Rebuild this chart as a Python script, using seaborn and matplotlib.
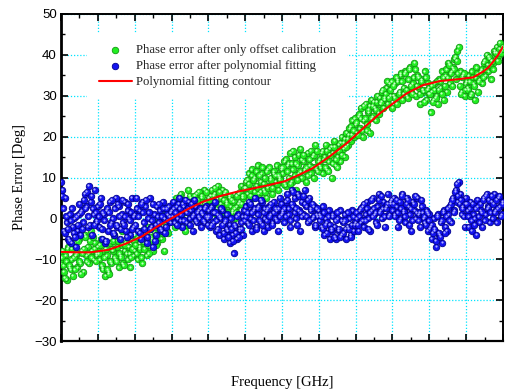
import numpy as np
import pandas as pd
import matplotlib
matplotlib.use("Agg")
import matplotlib.pyplot as plt
import seaborn as sns
from matplotlib.ticker import MultipleLocator, NullFormatter
from matplotlib.transforms import ScaledTranslation

# ---------------- data ----------------
# Phase error after only offset calibration: two interleaved sample passes,
# 25 samples per major x-division each
offset_err_a = (
    [-11, -8, -13, -9, -15, -7, -12, -10, -14, -6, -9, -12, -5, -11, -8, -13, -4, -9, -7, -11, -3, -8, -10, -6, -9] +
    [-7, -10, -5, -12, -8, -14, -9, -13, -6, -11, -8, -4, -10, -7, -12, -9, -3, -11, -8, -6, -10, -7, -12, -5, -9] +
    [-8, -5, -10, -7, -3, -11, -6, -4, -9, -2, -7, -5, -8, -1, -4, -6, -3, 0, -5, -2, -8, 1, -3, -1, 2] +
    [0, 3, -2, 5, 1, -1, 6, 2, 4, -3, 3, 7, 1, 5, 2, 0, 4, 6, 3, 1, 5, 2, 7, 4, 3] +
    [5, 2, 7, 4, 6, 1, 8, 3, 5, 7, 2, 6, 4, 1, 5, 3, 2, 4, 0, 3, 6, 4, 8, 5, 7] +
    [9, 6, 11, 7, 12, 5, 10, 8, 13, 6, 9, 11, 7, 10, 5, 12, 8, 10, 6, 11, 9, 13, 7, 10, 12] +
    [11, 14, 8, 13, 10, 16, 9, 12, 15, 7, 13, 11, 17, 10, 14, 12, 9, 16, 13, 11, 15, 10, 18, 12, 14] +
    [13, 16, 11, 15, 18, 12, 14, 17, 10, 16, 19, 13, 15, 18, 14, 20, 17, 15, 21, 18, 22, 19, 24, 20, 23] +
    [21, 25, 22, 27, 20, 24, 28, 23, 26, 21, 29, 25, 27, 24, 30, 26, 28, 31, 27, 29, 32, 28, 33, 30, 27] +
    [30, 33, 28, 34, 31, 35, 29, 32, 36, 30, 34, 37, 31, 33, 38, 30, 35, 32, 28, 34, 31, 36, 29, 33, 32] +
    [26, 31, 29, 33, 30, 28, 34, 32, 36, 29, 35, 31, 38, 33, 36, 37, 39, 34, 41, 42, 36, 31, 35, 30, 33] +
    [32, 35, 30, 36, 33, 29, 37, 31, 34, 36, 33, 38, 35, 40, 36, 39, 34, 38, 41, 39, 42, 40, 43, 41, 42]
)
offset_err_b = (
    [-9.5, -11.5, -14.5, -10.5, -7.5, -11.5, -12.5, -7.5, -9.5, -12.5, -8.5, -5.5, -10.5, -13.5, -8.5, -7.5, -4.5, -10.5, -8.5, -5.5, -9.5, -4.5, -7.5, -10.5, -8.5] +
    [-8.5, -6.5, -11.5, -12.5, -9.5, -7.5, -12.5, -13.5, -10.5, -7.5, -5.5, -9.5, -10.5, -5.5, -8.5, -9.5, -6.5, -11.5, -6.5, -8.5, -3.5, -8.5, -9.5, -7.5, -5.5] +
    [-6.5, -8.5, -4.5, -7.5, -9.5, -5.5, -7.5, -3.5, -6.5, -8.5, -4.5, -2.5, -5.5, -3.5, -6.5, -1.5, -4.5, -2.5, -3.5, 0.5, -2.5, -1.5, -3.5, 0.5, 1.5] +
    [1.5, -0.5, 3.5, 1.5, 2.5, 5.5, 0.5, 2.5, 4.5, 1.5, -1.5, 4.5, 5.5, 3.5, 0.5, 5.5, 1.5, 4.5, 6.5, 2.5, 5.5, 1.5, 3.5, 6.5, 2.5] +
    [4.5, 5.5, 2.5, 5.5, 7.5, 2.5, 3.5, 6.5, 3.5, 0.5, 4.5, 6.5, 3.5, 1.5, 5.5, 4.5, 1.5, 2.5, 1.5, 5.5, 3.5, 6.5, 3.5, 5.5, 7.5] +
    [7.5, 9.5, 8.5, 5.5, 10.5, 9.5, 6.5, 11.5, 7.5, 10.5, 6.5, 12.5, 8.5, 6.5, 11.5, 7.5, 12.5, 9.5, 7.5, 11.5, 10.5, 8.5, 10.5, 9.5, 12.5] +
    [12.5, 8.5, 14.5, 11.5, 13.5, 8.5, 13.5, 16.5, 10.5, 13.5, 9.5, 15.5, 11.5, 14.5, 15.5, 11.5, 12.5, 10.5, 14.5, 16.5, 12.5, 15.5, 12.5, 16.5, 11.5] +
    [14.5, 12.5, 16.5, 14.5, 12.5, 16.5, 11.5, 15.5, 17.5, 13.5, 17.5, 14.5, 12.5, 16.5, 18.5, 15.5, 18.5, 19.5, 17.5, 19.5, 20.5, 22.5, 20.5, 21.5, 24.5] +
    [23.5, 20.5, 25.5, 24.5, 21.5, 27.5, 24.5, 21.5, 26.5, 27.5, 24.5, 27.5, 28.5, 26.5, 28.5, 25.5, 29.5, 28.5, 31.5, 29.5, 30.5, 33.5, 29.5, 31.5, 33.5] +
    [32.5, 29.5, 34.5, 33.5, 30.5, 35.5, 33.5, 30.5, 35.5, 31.5, 29.5, 36.5, 32.5, 30.5, 34.5, 36.5, 32.5, 34.5, 30.5, 33.5, 31.5, 28.5, 34.5, 31.5, 30.5] +
    [30.5, 32.5, 28.5, 31.5, 29.5, 33.5, 31.5, 33.5, 30.5, 34.5, 32.5, 36.5, 34.5, 37.5, 35.5, 32.5, 36.5, 39.5, 38.5, 35.5, 32.5, 30.5, 34.5, 35.5, 31.5] +
    [33.5, 31.5, 33.5, 30.5, 34.5, 32.5, 34.5, 35.5, 33.5, 35.5, 36.5, 34.5, 38.5, 36.5, 37.5, 39.5, 37.5, 38.5, 36.5, 40.5, 40.5, 38.5, 41.5, 40.5, 41.5]
)

# Phase error after polynomial fitting: two interleaved sample passes
poly_err_a = (
    [9, 7, -3, 5, -1, -5, 1, -6, -2, 0, -7, -3, 1, -4, 2, -1, 6, 3, -2, 8, 4, -4, 1, 7, -1] +
    [3, -2, 5, -5, 1, -6, 2, -3, 4, -1, 0, -4, 5, -2, 3, -5, 1, -1, 4, -3, 2, 0, -4, 5, -2] +
    [1, 5, -3, 2, -5, 4, -1, 3, -6, 0, 5, -2, -7, 1, -4, 3, -1, 2, -3, 4, 0, -2, 1, 3, -1] +
    [2, 4, -1, 3, 0, 5, 1, -2, 3, 2, -1, 4, 0, 2, -3, 1, 3, -1, 2, 0, -2, 1, -1, 3, 0] +
    [2, -2, 3, -1, 4, -3, 1, -4, 0, 2, -5, -1, 1, -3, -6, 0, -4, -8.5, -2, -5, 1, -3, -1, -4, 2] +
    [3, -1, 4, 0, -3, 2, 5, -2, 1, 3, -1, 4, -3, 0, 2, -2, 3, 1, -1, 4, 0, 2, -3, 5, 1] +
    [2, -1, 4, 6, 1, -2, 7, 3, 5, 0, 6, 2, -3, 4, 1, 7, 3, -1, 5, 2, 0, 3, -2, 1, 2] +
    [1, -2, 3, -4, 0, -1, 2, -5, -3, 1, -2, -5, 0, -3, 2, -4, -1, 1, -5, -2, 0, -4, 2, -3, -1] +
    [0, -3, 2, -1, 3, -2, 1, 4, 0, -3, 2, 5, 1, -1, 3, 6, 2, 0, 4, -2, 3, 6, 1, 4, 2] +
    [5, 1, 3, -2, 4, 0, 6, 2, -1, 5, 3, 1, -3, 4, 2, 0, 5, 1, -2, 3, 0, -1, 2, -3, 1] +
    [-2, -5, 0, -3, -7, 1, -4, -1, -6, 2, -2, -3, 1, 3, -1, 5, 2, 7, 4, 9, 6, 1, 3, -2, 5] +
    [2, -2, 4, -3, 1, 0, -4, 3, -1, 2, -2, 5, 1, 6, 3, -1, 4, 0, 6, 2, -1, 5, 3, 1, 4]
)
poly_err_b = (
    [5.5, 2.5, -3.5, 0.5, -2.5, -5.5, -0.5, 2.5, -3.5, -4.5, 0.5, -1.5, 3.5, 1.5, -2.5, 4.5, 2.5, 6.5, 0.5, -1.5, 5.5, 2.5, -1.5, 1.5, -0.5] +
    [0.5, 3.5, -2.5, 1.5, -0.5, -5.5, 2.5, 1.5, -1.5, 4.5, -3.5, 2.5, -1.5, 3.5, 0.5, -2.5, 4.5, -1.5, 0.5, -4.5, 3.5, -0.5, 1.5, -2.5, 0.5] +
    [-1.5, 2.5, 0.5, -3.5, 3.5, 1.5, -2.5, 4.5, -4.5, 1.5, -2.5, -0.5, 3.5, -5.5, -1.5, 0.5, 3.5, -2.5, 0.5, 2.5, -3.5, 2.5, -0.5, 0.5, 1.5] +
    [0.5, 2.5, 1.5, -1.5, 3.5, 2.5, -0.5, 3.5, -0.5, 4.5, 1.5, 2.5, -1.5, 3.5, 0.5, 4.5, -0.5, 1.5, 0.5, 2.5, 1.5, -0.5, 2.5, 0.5, -1.5] +
    [0.5, 2.5, -1.5, 1.5, 1.5, -0.5, -2.5, 0.5, 2.5, -1.5, -3.5, -0.5, -2.5, -4.5, -1.5, -2.5, -5.5, -1.5, -3.5, 0.5, -4.5, -2.5, -2.5, 0.5, -0.5] +
    [0.5, 1.5, -1.5, 3.5, 1.5, -0.5, 2.5, -2.5, 2.5, -0.5, 4.5, -1.5, 1.5, 2.5, -0.5, 2.5, 0.5, 3.5, -1.5, 1.5, 2.5, -0.5, 2.5, 0.5, 3.5] +
    [1.5, 2.5, 0.5, 4.5, 2.5, -0.5, 3.5, 6.5, 1.5, 2.5, -1.5, 5.5, 1.5, 0.5, 5.5, 3.5, 0.5, 4.5, -0.5, 2.5, 3.5, 0.5, -1.5, 2.5, 0.5] +
    [-0.5, 0.5, -2.5, 1.5, -1.5, -3.5, 0.5, -1.5, -2.5, 0.5, -4.5, -0.5, 1.5, -2.5, -4.5, -0.5, -3.5, -0.5, -2.5, 1.5, -2.5, -4.5, -1.5, 0.5, -1.5] +
    [1.5, -1.5, 0.5, 2.5, -0.5, 3.5, -0.5, 2.5, -2.5, 1.5, 4.5, 0.5, 2.5, 1.5, -1.5, 4.5, 1.5, 5.5, 2.5, 0.5, 2.5, 3.5, 0.5, 3.5, 4.5] +
    [3.5, 0.5, 4.5, 1.5, -0.5, 2.5, 5.5, 1.5, 0.5, 3.5, 4.5, -1.5, 2.5, -0.5, 3.5, 5.5, 1.5, -0.5, 1.5, 4.5, 1.5, 0.5, -1.5, 1.5, -0.5] +
    [-2.5, -1.5, -3.5, -2.5, -5.5, 0.5, -3.5, -4.5, -0.5, 1.5, -3.5, 0.5, 2.5, -0.5, 3.5, 4.5, 1.5, 6.5, 8.5, 5.5, 3.5, 4.5, 2.5, 0.5, 3.5] +
    [3.5, 0.5, 2.5, -0.5, 3.5, -1.5, 2.5, 4.5, 0.5, 3.5, 1.5, 4.5, -0.5, 5.5, 2.5, 4.5, 1.5, 5.5, 3.5, 1.5, 4.5, 2.5, 5.5, 0.5, 3.5]
)

freq_a = np.linspace(0.0, 12.0, len(offset_err_a))
freq_b = np.linspace(0.02, 11.98, len(offset_err_b))

# Polynomial fitting contour
fit_freq = [0, 0.4, 0.81, 1.28, 1.73, 2.18, 2.63, 3.04, 3.45, 3.86, 4.3, 4.77, 5.2, 5.67,
            6.08, 6.45, 6.84, 7.3, 7.76, 8.2, 8.66, 9.07, 9.39, 9.83, 10.29, 10.74, 11.19,
            11.46, 11.6, 11.73, 11.87, 12.0]
fit_val = [-8.2, -8.3, -8.3, -7.7, -6.3, -4.5, -1.9, 0.2, 2.3, 4.1, 5.4, 6.5, 7.3, 8.2,
           9.1, 10.6, 12.3, 15.2, 18.4, 22.0, 25.7, 28.5, 30.6, 32.6, 33.6, 34.0, 34.5,
           35.9, 36.9, 38.3, 40.0, 42.0]

labels = ["Phase error after only offset calibration",
          "Phase error after polynomial fitting",
          "Polynomial fitting contour"]
y_ticks = [-30, -20, -10, 0, 10, 20, 30, 40, 50]

df_off = pd.DataFrame({"freq": np.concatenate([freq_a, freq_b]),
                       "err": offset_err_a + offset_err_b})
df_poly = pd.DataFrame({"freq": np.concatenate([freq_a, freq_b]),
                        "err": poly_err_a + poly_err_b})
df_fit = pd.DataFrame({"freq": fit_freq, "err": fit_val})

# ---------------- style ----------------
sns.set_theme(style="white")
plt.rcParams['font.family'] = ['Liberation Sans', 'DejaVu Sans']
serif = ['Liberation Serif', 'DejaVu Serif']

fig = plt.figure(figsize=(5.05, 3.89), dpi=100)
ax = fig.add_axes([61/505, 48/389, 442/505, 327/389])

hl = ax.transData + ScaledTranslation(-0.6/100, 0.6/100, fig.dpi_scale_trans)

sns.scatterplot(data=df_off, x="freq", y="err", ax=ax, s=22, color="#22ee22",
                edgecolor="#119911", linewidth=0.6, label=labels[0], zorder=3)
ax.scatter(df_off["freq"], df_off["err"], s=2.5, color="#c8ffc8", linewidths=0,
           transform=hl, zorder=3.1)
sns.scatterplot(data=df_poly, x="freq", y="err", ax=ax, s=22, color="#1414f0",
                edgecolor="#000090", linewidth=0.6, label=labels[1], zorder=4)
ax.scatter(df_poly["freq"], df_poly["err"], s=2.5, color="#b0b0ff", linewidths=0,
           transform=hl, zorder=4.1)
sns.lineplot(data=df_fit, x="freq", y="err", ax=ax, color="#ff0000", linewidth=1.5,
             sort=False, estimator=None, label=labels[2], zorder=5)

ax.set_xlim(0, 12)
ax.set_ylim(-30, 50)
ax.set_yticks(y_ticks)
ax.xaxis.set_major_locator(MultipleLocator(1))
ax.xaxis.set_minor_locator(MultipleLocator(0.5))
ax.yaxis.set_minor_locator(MultipleLocator(5))
ax.xaxis.set_major_formatter(NullFormatter())

ax.grid(True, which="major", color="#00e5ff", linestyle=(0, (1, 1.5)), linewidth=0.9)
ax.set_axisbelow(True)

for side in ["left", "bottom", "top", "right"]:
    ax.spines[side].set_color("black")
    ax.spines[side].set_linewidth(1.4)
ax.spines["left"].set_linewidth(2.0)
ax.spines["bottom"].set_linewidth(1.6)

ax.tick_params(which="both", direction="in", top=True, right=True, bottom=True, left=True,
               colors="black")
ax.tick_params(which="major", length=5, width=1.2, labelsize=9.5, pad=3)
ax.tick_params(which="minor", length=3, width=1.0)

ax.set_xlabel("Frequency [GHz]", family=serif, fontsize=10.5, labelpad=22, color="black")
ax.set_ylabel("Phase Error [Deg]", family=serif, fontsize=10.5, labelpad=6, color="black")

h, l = ax.get_legend_handles_labels()
leg = ax.legend(h[:3], labels, loc="upper left", bbox_to_anchor=(0.045, 0.962),
                prop={'family': serif, 'size': 9.2}, frameon=True, framealpha=1,
                facecolor="white", edgecolor="none", fancybox=False, borderpad=0.9,
                handlelength=2.6, handletextpad=0.3, labelspacing=0.3, markerscale=1.0)
leg.set_zorder(6)

fig.savefig("out.png", dpi=100)
